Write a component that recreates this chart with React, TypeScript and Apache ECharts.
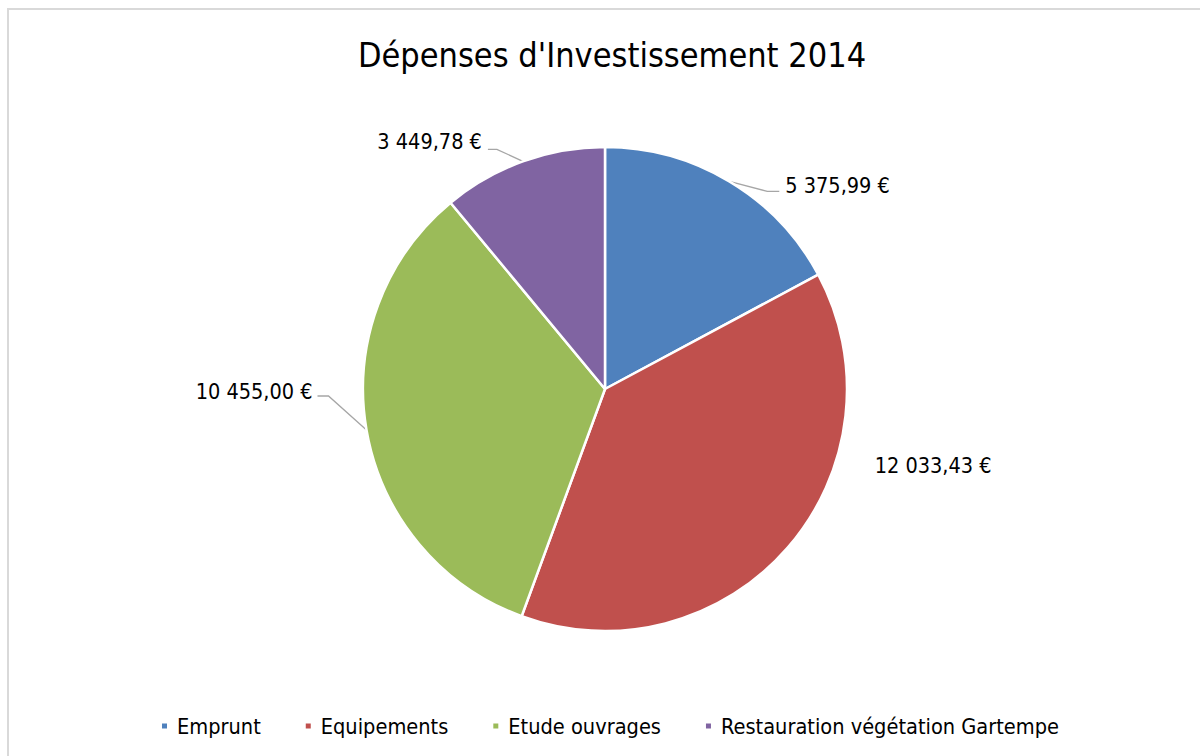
import React, { useEffect, useRef } from "react";
import * as echarts from "echarts";

const titleText = "Dépenses d'Investissement 2014";
const categories = ["Emprunt", "Equipements", "Etude ouvrages", "Restauration végétation Gartempe"];
const values = [5375.99, 12033.43, 10455.0, 3449.78];
const colors = ["#4F81BD", "#C0504D", "#9BBB59", "#8064A2"];

// label placement relative to the slice's edge anchor (dx, dy), alignment, and leader bends
const labelOffsets = [
  { dx: 56, dy: 4, align: "left", bends: [[38, 10], [50, 10]] },
  { dx: 87, dy: -82, align: "left", bends: null },
  { dx: -54, dy: -39, align: "right", bends: [[-38, -34], [-49, -34]] },
  { dx: -41, dy: -20, align: "right", bends: [[-26, -12], [-35, -12]] },
];

const FONT = "'Liberation Sans Narrow', 'DejaVu Sans Condensed', sans-serif";
const CX = 605;
const CY = 389;
const R = 242;

function fmt(v: number): string {
  const parts = v.toFixed(2).split(".");
  const int = parts[0].replace(/\B(?=(\d{3})+(?!\d))/g, " ");
  return int + "," + parts[1] + " €";
}

export default function App() {
  const ref = useRef<HTMLDivElement>(null);
  useEffect(() => {
    if (!ref.current) return;
    const chart = echarts.init(ref.current, undefined, { renderer: "svg" });
    const total = values.reduce((a, b) => a + b, 0);
    const anchors: number[][] = [];
    let acc = 0;
    values.forEach((v) => {
      const mid = ((acc + v / 2) / total) * 2 * Math.PI;
      anchors.push([CX + R * Math.sin(mid), CY - R * Math.cos(mid)]);
      acc += v;
    });

    chart.setOption({
      animation: false,
      backgroundColor: "#ffffff",
      title: {
        text: titleText,
        left: 607,
        textAlign: "center",
        top: 33,
        textStyle: { fontFamily: FONT, fontSize: 34, fontWeight: "normal", color: "#000000" },
      },
      graphic: [
        {
          type: "rect",
          shape: { x: 8, y: 9, width: 1300, height: 900 },
          style: { fill: "none", stroke: "#d9d9d9", lineWidth: 2 },
          silent: true,
        },
      ],
      legend: {
        data: categories,
        bottom: 14,
        left: 155,
        icon: "rect",
        itemWidth: 7,
        itemHeight: 7,
        itemGap: 43,
        textStyle: { fontFamily: FONT, fontSize: 21.6, color: "#000000", padding: [0, 0, 0, 4] },
      },
      series: [
        {
          type: "pie",
          center: [CX, CY],
          radius: R,
          startAngle: 90,
          clockwise: true,
          avoidLabelOverlap: false,
          itemStyle: { borderColor: "#ffffff", borderWidth: 2.5 },
          label: {
            show: true,
            position: "outside",
            formatter: (p: any) => fmt(p.value),
            fontFamily: FONT,
            fontSize: 21.5,
            color: "#000000",
          },
          labelLine: {
            show: true,
            length: 20,
            length2: 10,
            lineStyle: { color: "#a6a6a6", width: 1.3 },
          },
          labelLayout: (params: any) => {
            const i = params.dataIndex;
            const o = labelOffsets[i];
            const a = anchors[i];
            const pts = o.bends
              ? [a, [a[0] + o.bends[0][0], a[1] + o.bends[0][1]], [a[0] + o.bends[1][0], a[1] + o.bends[1][1]]]
              : [a, a, a];
            return {
              x: a[0] + o.dx,
              y: a[1] + o.dy,
              align: o.align,
              verticalAlign: "middle",
              labelLinePoints: pts,
            };
          },
          data: categories.map((c, i) => ({
            name: c,
            value: values[i],
            itemStyle: { color: colors[i] },
          })),
        },
      ],
    });
    return () => chart.dispose();
  }, []);
  return (
    <div
      ref={ref}
      style={{ position: "fixed", left: 0, top: 0, width: 1200, height: 756, background: "#fff" }}
    />
  );
}
